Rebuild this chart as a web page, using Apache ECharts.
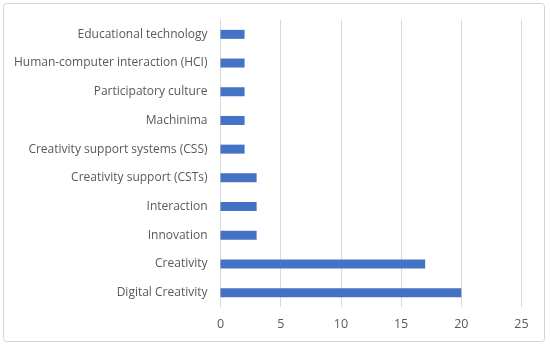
<!DOCTYPE html>
<html>
<head>
<meta charset="utf-8">
<script src="https://cdn.jsdelivr.net/npm/echarts@6/dist/echarts.min.js"></script>
<style>
html,body{margin:0;padding:0;background:#fff;}
#c{width:550px;height:348px;}
</style>
</head>
<body>
<div id="c"></div>
<script>
const categories = ["Digital Creativity","Creativity","Innovation","Interaction","Creativity support (CSTs)","Creativity support systems (CSS)","Machinima","Participatory culture","Human-computer interaction (HCI)","Educational technology"];
const values = [20,17,3,3,3,2,2,2,2,2];
const xTicks = {min:0,max:25,interval:5};

const chart = echarts.init(document.getElementById('c'), null, {renderer:'canvas'});
chart.setOption({
  animation:false,
  backgroundColor:'#fff',
  graphic:[{type:'rect',shape:{x:3.5,y:3.5,width:541,height:338,r:3},style:{fill:'none',stroke:'#d4d4d4',lineWidth:1}}],
  grid:{left:220.5,right:28.5,top:20,bottom:41,containLabel:false},
  xAxis:{type:'value',min:xTicks.min,max:xTicks.max,interval:xTicks.interval,
    axisLine:{show:false},axisTick:{show:false},
    axisLabel:{color:'#595959',fontSize:12.5,fontFamily:'Open Sans, Noto Sans, sans-serif',margin:11},
    splitLine:{show:true,lineStyle:{color:'#d9d9d9',width:1}}},
  yAxis:{type:'category',data:categories,
    axisLine:{show:true,lineStyle:{color:'#d9d9d9'}},axisTick:{show:false},
    axisLabel:{color:'#595959',fontSize:12,fontFamily:'Open Sans, Noto Sans, sans-serif',margin:13}},
  series:[{type:'bar',data:values,barWidth:9,itemStyle:{color:'#4472C4'}}]
});
</script>
</body>
</html>
